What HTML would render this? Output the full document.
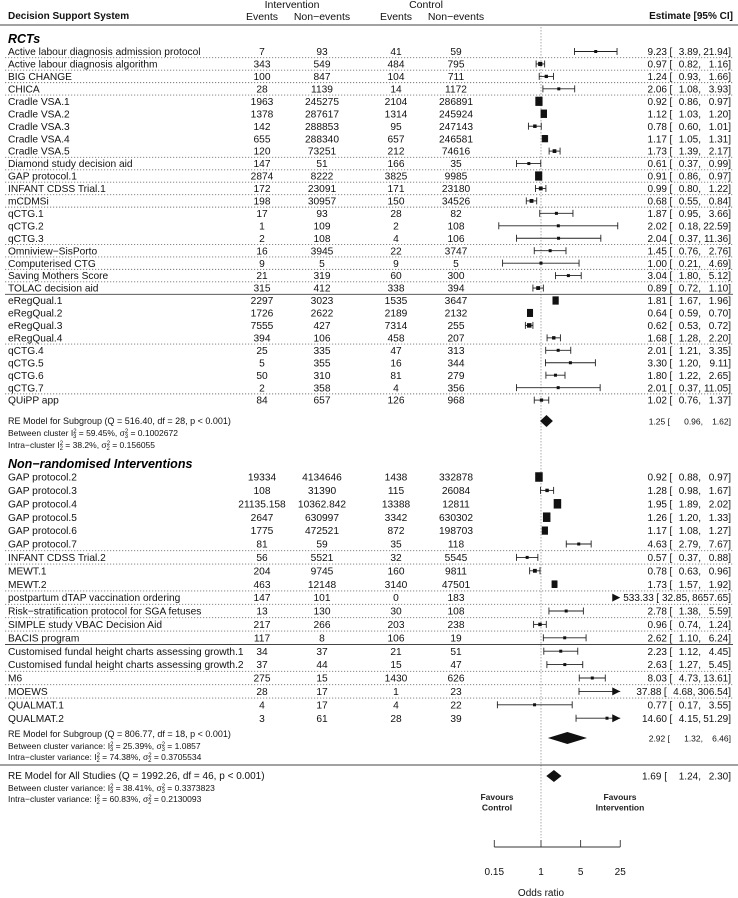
<!DOCTYPE html>
<html><head><meta charset="utf-8"><style>
html,body{margin:0;padding:0;background:#fff}
svg{display:block;font-family:"Liberation Sans",Arial,sans-serif}
</style></head><body>
<svg id="fp" width="738" height="898" viewBox="0 0 738 898" xmlns="http://www.w3.org/2000/svg">
<g font-size="10.5" fill="#111">
<text x="8" y="19" font-weight="bold" font-size="10">Decision Support System</text>
<text x="292" y="8" text-anchor="middle">Intervention</text>
<text x="426" y="8" text-anchor="middle">Control</text>
<text x="262" y="20" text-anchor="middle">Events</text>
<text x="322" y="20" text-anchor="middle">Non−events</text>
<text x="396" y="20" text-anchor="middle">Events</text>
<text x="456" y="20" text-anchor="middle">Non−events</text>
<text x="733" y="19" text-anchor="end" font-weight="bold" font-size="10">Estimate [95% CI]</text>
</g>
<line x1="0" y1="25" x2="738" y2="25" stroke="#444" stroke-width="1"/>
<line x1="541" y1="27" x2="541" y2="838" stroke="#aaa" stroke-width="1" stroke-dasharray="1.5,1.5"/>
<text x="8" y="43" font-size="12.5" font-weight="bold" font-style="italic">RCTs</text>
<text x="8" y="468" font-size="12.5" font-weight="bold" font-style="italic">Non−randomised Interventions</text>
<g id="rows"></g>
<g fill="#111">
<text x="8" y="424" font-size="9">RE Model for Subgroup (Q = 516.40, df = 28, p &lt; 0.001)</text>
<text x="8" y="436" font-size="8.5">Between cluster I<tspan font-size="6" dy="-3">2</tspan><tspan font-size="6" dy="5" dx="-3.5">3</tspan><tspan dy="-2"> = 59.45%, σ</tspan><tspan font-size="6" dy="-3">2</tspan><tspan font-size="6" dy="5" dx="-3.5">3</tspan><tspan dy="-2"> = 0.1002672</tspan></text>
<text x="8" y="448" font-size="8.5">Intra−cluster I<tspan font-size="6" dy="-3">2</tspan><tspan font-size="6" dy="5" dx="-3.5">2</tspan><tspan dy="-2"> = 38.2%, σ</tspan><tspan font-size="6" dy="-3">2</tspan><tspan font-size="6" dy="5" dx="-3.5">2</tspan><tspan dy="-2"> = 0.156055</tspan></text>
</g>
<g fill="#111">
<text x="8" y="737" font-size="9">RE Model for Subgroup (Q = 806.77, df = 18, p &lt; 0.001)</text>
<text x="8" y="749" font-size="8.5">Between cluster variance: I<tspan font-size="6" dy="-3">2</tspan><tspan font-size="6" dy="5" dx="-3.5">3</tspan><tspan dy="-2"> = 25.39%, σ</tspan><tspan font-size="6" dy="-3">2</tspan><tspan font-size="6" dy="5" dx="-3.5">3</tspan><tspan dy="-2"> = 1.0857</tspan></text>
<text x="8" y="760" font-size="8.5">Intra−cluster variance: I<tspan font-size="6" dy="-3">2</tspan><tspan font-size="6" dy="5" dx="-3.5">2</tspan><tspan dy="-2"> = 74.38%, σ</tspan><tspan font-size="6" dy="-3">2</tspan><tspan font-size="6" dy="5" dx="-3.5">2</tspan><tspan dy="-2"> = 0.3705534</tspan></text>
</g>
<line x1="0" y1="765" x2="738" y2="765" stroke="#444" stroke-width="1"/>
<g fill="#111">
<text x="8" y="779" font-size="10">RE Model for All Studies (Q = 1992.26, df = 46, p &lt; 0.001)</text>
<text x="8" y="791" font-size="8.5">Between cluster variance: I<tspan font-size="6" dy="-3">2</tspan><tspan font-size="6" dy="5" dx="-3.5">3</tspan><tspan dy="-2"> = 38.41%, σ</tspan><tspan font-size="6" dy="-3">2</tspan><tspan font-size="6" dy="5" dx="-3.5">3</tspan><tspan dy="-2"> = 0.3373823</tspan></text>
<text x="8" y="802" font-size="8.5">Intra−cluster variance: I<tspan font-size="6" dy="-3">2</tspan><tspan font-size="6" dy="5" dx="-3.5">2</tspan><tspan dy="-2"> = 60.83%, σ</tspan><tspan font-size="6" dy="-3">2</tspan><tspan font-size="6" dy="5" dx="-3.5">2</tspan><tspan dy="-2"> = 0.2130093</tspan></text>
</g>
<g font-size="8.5" font-weight="bold" fill="#222" text-anchor="middle">
<text x="497" y="800">Favours<tspan x="497" dy="10.5">Control</tspan></text>
<text x="620" y="800">Favours<tspan x="620" dy="10.5">Intervention</tspan></text>
</g>
<g id="axis"></g>
<text x="541" y="896" font-size="10" text-anchor="middle" fill="#111">Odds ratio</text>
</svg>
<script>
// RCT rows
const rctNames = ["Active labour diagnosis admission protocol","Active labour diagnosis algorithm","BIG CHANGE","CHICA","Cradle VSA.1","Cradle VSA.2","Cradle VSA.3","Cradle VSA.4","Cradle VSA.5","Diamond study decision aid","GAP protocol.1","INFANT CDSS Trial.1","mCDMSi","qCTG.1","qCTG.2","qCTG.3","Omniview−SisPorto","Computerised CTG","Saving Mothers Score","TOLAC decision aid","eRegQual.1","eRegQual.2","eRegQual.3","eRegQual.4","qCTG.4","qCTG.5","qCTG.6","qCTG.7","QUiPP app"];
const rctIntEvents = [7,343,100,28,1963,1378,142,655,120,147,2874,172,198,17,1,2,16,9,21,315,2297,1726,7555,394,25,5,50,2,84];
const rctIntNon = [93,549,847,1139,245275,287617,288853,288340,73251,51,8222,23091,30957,93,109,108,3945,5,319,412,3023,2622,427,106,335,355,310,358,657];
const rctCtrlEvents = [41,484,104,14,2104,1314,95,657,212,166,3825,171,150,28,2,4,22,9,60,338,1535,2189,7314,458,47,16,81,4,126];
const rctCtrlNon = [59,795,711,1172,286891,245924,247143,246581,74616,35,9985,23180,34526,82,108,106,3747,5,300,394,3647,2132,255,207,313,344,279,356,968];
const rctEst = [9.23,0.97,1.24,2.06,0.92,1.12,0.78,1.17,1.73,0.61,0.91,0.99,0.68,1.87,2.02,2.04,1.45,1.00,3.04,0.89,1.81,0.64,0.62,1.68,2.01,3.30,1.80,2.01,1.02];
const rctLo = [3.89,0.82,0.93,1.08,0.86,1.03,0.60,1.05,1.39,0.37,0.86,0.80,0.55,0.95,0.18,0.37,0.76,0.21,1.80,0.72,1.67,0.59,0.53,1.28,1.21,1.20,1.22,0.37,0.76];
const rctHi = [21.94,1.16,1.66,3.93,0.97,1.20,1.01,1.31,2.17,0.99,0.97,1.22,0.84,3.66,22.59,11.36,2.76,4.69,5.12,1.10,1.96,0.70,0.72,2.20,3.35,9.11,2.65,11.05,1.37];
const rctSep = ["dot","dot","dot","dot","","","","","dot","dot","dot","dot","dot","","","dot","dot","dot","dot","solid","","","","dot","","","","dot",""];
// Non-randomised rows
const nrNames = ["GAP protocol.2","GAP protocol.3","GAP protocol.4","GAP protocol.5","GAP protocol.6","GAP protocol.7","INFANT CDSS Trial.2","MEWT.1","MEWT.2","postpartum dTAP vaccination ordering","Risk−stratification protocol for SGA fetuses","SIMPLE study VBAC Decision Aid","BACIS program","Customised fundal height charts assessing growth.1","Customised fundal height charts assessing growth.2","M6","MOEWS","QUALMAT.1","QUALMAT.2"];
const nrIntEvents = [19334,108,21135.158,2647,1775,81,56,204,463,147,13,217,117,34,37,275,28,4,3];
const nrIntNon = [4134646,31390,10362.842,630997,472521,59,5521,9745,12148,101,130,266,8,37,44,15,17,17,61];
const nrCtrlEvents = [1438,115,13388,3342,872,35,32,160,3140,0,30,203,106,21,15,1430,1,4,28];
const nrCtrlNon = [332878,26084,12811,630302,198703,118,5545,9811,47501,183,108,238,19,51,47,626,23,22,39];
const nrEst = [0.92,1.28,1.95,1.26,1.17,4.63,0.57,0.78,1.73,533.33,2.78,0.96,2.62,2.23,2.63,8.03,37.88,0.77,14.60];
const nrLo = [0.88,0.98,1.89,1.20,1.08,2.79,0.37,0.63,1.57,32.85,1.38,0.74,1.10,1.12,1.27,4.73,4.68,0.17,4.15];
const nrHi = [0.97,1.67,2.02,1.33,1.27,7.67,0.88,0.96,1.92,8657.65,5.59,1.24,6.24,4.45,5.45,13.61,306.54,3.55,51.29];
const nrSep = ["","","","","","dot","dot","","dot","dot","dot","dot","solid","","dot","dot","dot","",""];
// Summary estimates
const summaryNames = ["rct-subgroup","nonrandom-subgroup","overall"];
const summaryEst = [1.25,2.92,1.69];
const summaryLo = [0.96,1.32,1.24];
const summaryHi = [1.62,6.46,2.30];
// Axis ticks
const tickValues = [0.15,1,5,25];
const tickLabels = ["0.15","1","5","25"];

const NS = "http://www.w3.org/2000/svg";
const X0 = 541, K = 24.62, XMIN = 0.15, XMAX = 25;
function xs(v){ return X0 + K*Math.log(v); }
function mk(tag, attrs, parent){
  const e = document.createElementNS(NS, tag);
  for (const k in attrs) e.setAttribute(k, attrs[k]);
  parent.appendChild(e); return e;
}
const rowsG = document.getElementById("rows");
function fmt(v){ return v.toFixed(2); }

function drawRow(y, step, name, ie, inn, ce, cn, est, lo, hi, sep, idx, grp){
  const g = mk("g", {}, rowsG);
  
  
  const t = mk("text", {x:8, y:y+3.6, "font-size":"10.2", fill:"#111"}, g);
  t.textContent = name;
  
  
  const cols = [[262,ie],[322,inn],[396,ce],[456,cn]];
  cols.forEach(c => {
    const n = mk("text", {x:c[0], y:y+3.6, "font-size":"10.2", "text-anchor":"middle", fill:"#111"}, g);
    n.textContent = String(c[1]);
    
    
  });
  const xl = xs(Math.max(lo, XMIN)), xh = xs(Math.min(hi, XMAX));
  if (lo < XMAX) {
    const ln = mk("line", {x1:xl, y1:y, x2:xh, y2:y, stroke:"#222", "stroke-width":"0.9"}, g);
    
    
    if (lo >= XMIN) {
      const a = mk("line", {x1:xl, y1:y-3.5, x2:xl, y2:y+3.5, stroke:"#222", "stroke-width":"0.9"}, g);
      
      
    }
    if (hi <= XMAX) {
      const b = mk("line", {x1:xh, y1:y-3.5, x2:xh, y2:y+3.5, stroke:"#222", "stroke-width":"0.9"}, g);
      
      
    }
  }
  if (hi > XMAX) {
    const xr = xs(XMAX);
    const ar = mk("polygon", {points:(xr-8)+","+(y-4)+" "+xr+","+y+" "+(xr-8)+","+(y+4), fill:"#111"}, g);
    
    
  }
  if (est >= XMIN && est <= XMAX) {
    const w = Math.log(hi/lo);
    const s = Math.max(3, Math.min(7.5, 2.5/Math.sqrt(w)));
    const sq = mk("rect", {x:xs(est)-s/2, y:y-s/2 - (s>5?1:0), width:s, height:s + (s>5?2:0), fill:"#111"}, g);
    
    
  }
  const sh = Math.max(0, fmt(hi).length - 5) * 5.6 + Math.max(0, fmt(lo).length - 4) * 2;
  const e1 = mk("text", {x:667 - sh, y:y+3.6, "font-size":"10", "text-anchor":"end", fill:"#111"}, g);
  e1.textContent = fmt(est);
  
  
  const e2 = mk("text", {x:669.5 - sh, y:y+3.6, "font-size":"10", fill:"#111"}, g);
  e2.textContent = "[";
  
  
  const e3 = mk("text", {x:701 - Math.max(0, fmt(hi).length - 5) * 5.6, y:y+3.6, "font-size":"10", "text-anchor":"end", fill:"#111"}, g);
  e3.textContent = fmt(lo) + ",";
  
  
  const e4 = mk("text", {x:731, y:y+3.6, "font-size":"10", "text-anchor":"end", fill:"#111"}, g);
  e4.textContent = fmt(hi) + "]";
  
  
  if (sep) {
    const ly = y + step/2;
    const sl = mk("line", {x1:5, y1:ly, x2:733, y2:ly, stroke: sep==="solid"?"#444":"#777", "stroke-width":"0.9"}, g);
    if (sep === "dot") sl.setAttribute("stroke-dasharray", "1.2,1.8");
    
    
  }
}
const RCT_Y0 = 51.5, RCT_STEP = 12.45;
rctNames.forEach((n,i) => drawRow(RCT_Y0 + i*RCT_STEP, RCT_STEP, n, rctIntEvents[i], rctIntNon[i], rctCtrlEvents[i], rctCtrlNon[i], rctEst[i], rctLo[i], rctHi[i], rctSep[i], i, 'rct'));
const NR_Y0 = 477, NR_STEP = 13.4;
nrNames.forEach((n,i) => drawRow(NR_Y0 + i*NR_STEP, NR_STEP, n, nrIntEvents[i], nrIntNon[i], nrCtrlEvents[i], nrCtrlNon[i], nrEst[i], nrLo[i], nrHi[i], nrSep[i], i, 'nonrandom'));

// Summary diamonds
const sumY = [421, 738, 776];
const sumFont = [8.5, 8.5, 10];
summaryNames.forEach((n,i) => {
  const y = sumY[i];
  const d = mk("polygon", {points: xs(summaryLo[i])+","+y+" "+xs(summaryEst[i])+","+(y-6)+" "+xs(summaryHi[i])+","+y+" "+xs(summaryEst[i])+","+(y+6), fill:"#111"}, rowsG);
  
  
  const f = sumFont[i];
  const big = f > 9;
  const t1 = mk("text", {x:big?667:670, y:y+3.3, "font-size":f, "text-anchor":"end", fill:"#111"}, rowsG);
  t1.textContent = fmt(summaryEst[i]) + " [";
  
  
  const t2 = mk("text", {x:big?701:703, y:y+3.3, "font-size":f, "text-anchor":"end", fill:"#111"}, rowsG);
  t2.textContent = fmt(summaryLo[i]) + ",";
  
  
  const t3 = mk("text", {x:731, y:y+3.3, "font-size":f, "text-anchor":"end", fill:"#111"}, rowsG);
  t3.textContent = fmt(summaryHi[i]) + "]";
  
  
});

// Axis
const axG = document.getElementById("axis");
const AY = 847;
const al = mk("line", {x1:xs(tickValues[0]), y1:AY, x2:xs(tickValues[tickValues.length-1]), y2:AY, stroke:"#333", "stroke-width":"0.9"}, axG);


tickValues.forEach((v,i) => {
  const tk = mk("line", {x1:xs(v), y1:AY, x2:xs(v), y2:AY-7, stroke:"#333", "stroke-width":"0.9"}, axG);
  
  
  const tl = mk("text", {x:xs(v), y:AY+28, "font-size":"10", "text-anchor":"middle", fill:"#111"}, axG);
  tl.textContent = tickLabels[i];
  
  
});
</script>
</body></html>
